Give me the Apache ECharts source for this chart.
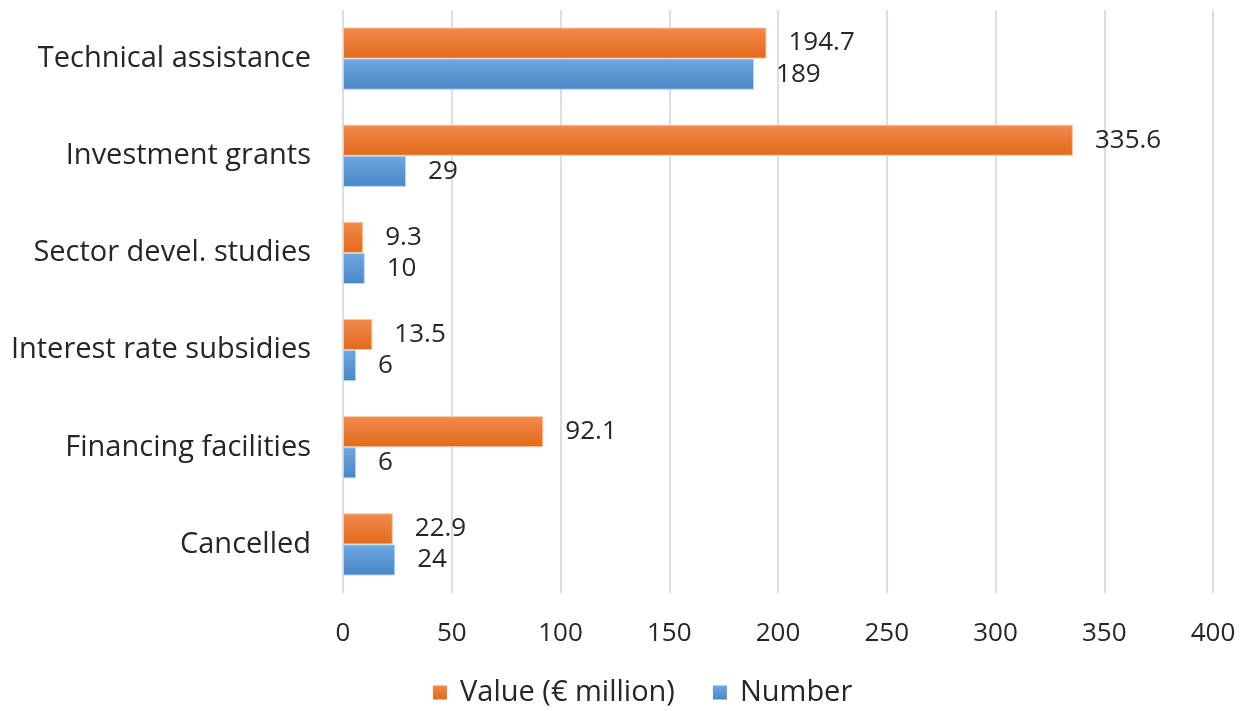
<!DOCTYPE html>
<html><head><meta charset="utf-8">
<script src="https://cdn.jsdelivr.net/npm/echarts@6/dist/echarts.min.js"></script>
<style>html,body{margin:0;padding:0;background:#fff}#c{width:1244px;height:711px}</style>
</head><body><div id="c"></div>
<script>
const categories = ["Technical assistance","Investment grants","Sector devel. studies","Interest rate subsidies","Financing facilities","Cancelled"];
const valueMillion = [194.7, 335.6, 9.3, 13.5, 92.1, 22.9];
const numberCount = [189, 29, 10, 6, 6, 24];
const xTicks = [0, 50, 100, 150, 200, 250, 300, 350, 400];

const FONT = '"Open Sans"';
const TXT = '#262626';
const chart = echarts.init(document.getElementById('c'));
function grad(a, b) {
  return new echarts.graphic.LinearGradient(0, 0, 0, 1, [{offset: 0, color: a}, {offset: 1, color: b}]);
}
chart.setOption({
  animation: false,
  textStyle: {fontFamily: FONT},
  grid: {left: 343, right: 31, top: 10, bottom: 118},
  legend: {
    top: 673, left: 428, itemWidth: 14, itemHeight: 14, itemGap: 38, icon: 'rect',
    itemStyle: {borderWidth: 0},
    textStyle: {fontFamily: FONT, fontSize: 29, color: TXT, padding: [0, 0, 0, 8]},
    data: ['Value (€ million)', 'Number']
  },
  xAxis: {
    type: 'value', min: xTicks[0], max: xTicks[xTicks.length - 1], interval: 50,
    axisLine: {show: false}, axisTick: {show: false},
    splitLine: {lineStyle: {color: '#D9DEE8', width: 2}},
    axisLabel: {fontFamily: FONT, fontSize: 26, color: TXT, margin: 28}
  },
  yAxis: {
    type: 'category', data: categories, inverse: true,
    axisLine: {show: false}, axisTick: {show: false},
    axisLabel: {fontFamily: FONT, fontSize: 29, color: TXT, margin: 32}
  },
  series: [
    {
      name: 'Value (€ million)', type: 'bar', data: valueMillion,
      barGap: '0%', barCategoryGap: '36%',
      itemStyle: {color: grad('#F28A4C', '#E2691A'), borderColor: '#F6C9A8', borderWidth: 1},
      label: {show: true, position: 'right', distance: 22, fontFamily: FONT, fontSize: 26, color: TXT}
    },
    {
      name: 'Number', type: 'bar', data: numberCount,
      itemStyle: {color: grad('#6EA8E0', '#4886C6'), borderColor: '#B9D3EE', borderWidth: 1},
      label: {show: true, position: 'right', distance: 22, fontFamily: FONT, fontSize: 26, color: TXT}
    }
  ]
});
</script></body></html>
